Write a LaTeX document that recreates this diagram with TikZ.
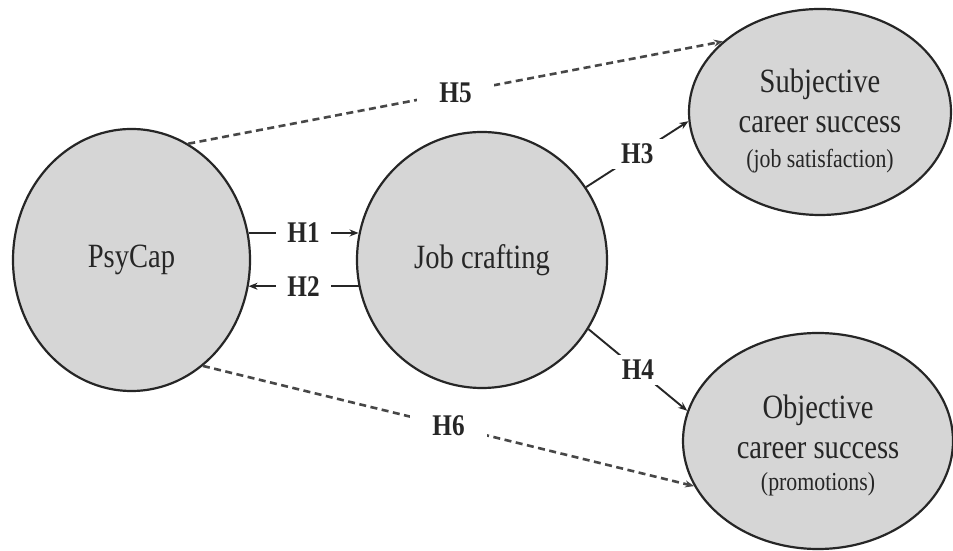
\documentclass[tikz,border=0pt]{standalone}
\usepackage{fontspec}
\setmainfont{Liberation Serif}[FakeStretch=0.84]
\usetikzlibrary{arrows.meta,shapes.geometric}
\definecolor{ink}{HTML}{262626}
\definecolor{bubble}{HTML}{D6D6D6}

\begin{document}
\begin{tikzpicture}
  [x=1pt,y=1pt,
   latent/.style={ellipse,draw=ink,line width=2.2pt,fill=bubble,inner sep=0pt,
     align=center,text=ink,font=\fontsize{34}{40}\selectfont},
   arr/.style={draw=ink,line width=1.9pt,-{Stealth[length=9pt,width=7pt]}},
   indirect/.style={arr,draw=ink!85,line width=2.6pt,dash pattern=on 7pt off 4.5pt},
   hyp/.style={fill=white,inner xsep=11pt,inner ysep=5pt,text=ink,
     font=\bfseries\fontsize{30}{32}\selectfont},
   hypwide/.style={hyp,inner xsep=22pt,inner ysep=1pt}]
  \useasboundingbox[fill=white] (0,0) rectangle (953,551);

  \node[latent,minimum width=237pt,minimum height=262pt] (psycap) at (131.5,291) {PsyCap};
  \node[latent,minimum width=250pt,minimum height=256pt] (jobcraft) at (482,291) {Job crafting};
  \node[latent,minimum width=262pt,minimum height=206pt] (subj) at (820,439)
    {\rule{0pt}{41pt}Subjective\\career success\\[-5pt]{\fontsize{26}{30}\selectfont (job satisfaction)}};
  \node[latent,minimum width=270pt,minimum height=216pt] (obj) at (818,110)
    {\rule{0pt}{32pt}Objective\\career success\\[-8pt]{\fontsize{26}{30}\selectfont (promotions)}};

  % psycap <-> job crafting, kept level
  \foreach \from/\to/\lab in {psycap.13/jobcraft.168/H1,jobcraft.192/psycap.347/H2}
    \draw[arr] (\from) -- node[hyp] {\lab} (\from -| \to);

  % job crafting -> outcomes
  \foreach \from/\to/\lab in {jobcraft.35/subj.184/H3,jobcraft.327/obj.167/H4}
    \draw[arr] (\from) -- node[hyp] {\lab} (\to);

  % indirect paths
  \foreach \from/\to/\lab in {psycap.64/subj.144/H5,psycap.304/obj.200/H6}
    \draw[indirect] (\from) -- node[hypwide] {\lab} (\to);

\end{tikzpicture}
\end{document}
